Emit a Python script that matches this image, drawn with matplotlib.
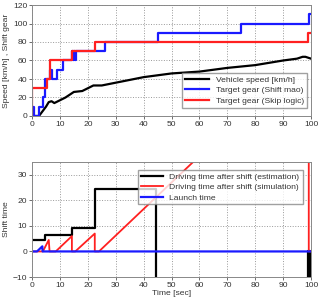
import matplotlib
matplotlib.use("Agg")
import matplotlib.pyplot as plt
import numpy as np

plt.rcParams['font.family'] = ['Liberation Sans', 'DejaVu Sans']

# ---- top chart data ----
speed_t = [0, 2.5, 3, 4, 5, 6, 7, 8, 10, 12, 15, 18, 20, 22, 25, 30, 35, 40, 45, 50, 60, 70, 80, 90, 95, 97, 98, 100]
speed_v = [0, 0, 2, 6, 10, 15, 16, 14, 17, 20, 26, 27, 30, 33, 33, 36, 39, 42, 44, 46, 48, 52, 55, 60, 62, 64, 64, 62]

shift_t = [0, 0.3, 0.8, 2.6, 4.0, 4.5, 6.3, 7.3, 9.0, 11.0, 14.2, 14.6, 15.0, 15.4, 15.8, 26.0, 45.0, 75.0, 99.3, 100]
shift_v = [0, 10, 0, 10, 20, 40, 50, 40, 50, 60, 70, 60, 70, 60, 70, 80, 90, 100, 110, 110]

skip_t = [0, 0.15, 5.5, 6.3, 14.5, 22.5, 98.8, 100]
skip_v = [0, 30, 40, 60, 70, 80, 90, 90]

# ---- bottom chart data ----
est_t = [0, 4.8, 14.3, 22.6, 44.4, 99.0, 99.6, 100]
est_v = [4.3, 6.3, 9.2, 24.5, -30, 0, -30, -30]

sim_t = [0, 3.9, 6.0, 6.3, 8.5, 14.3, 14.3, 15.5, 22.5, 22.5, 24.0, 99.2, 99.2, 100]
sim_v = [0, 0, 4.5, 0, 0, 6.0, 0, 0, 7.0, 0, 0, 78, 0, 0]

launch_t = [0, 1.8, 3.7, 3.8, 100]
launch_v = [0, 0, 2.0, 0, 0]

fig = plt.figure(figsize=(3.18, 3.07), dpi=100)
ax1 = fig.add_axes([32/318, 1-116/307, 279/318, 111/307])
ax2 = fig.add_axes([32/318, 1-277/307, 279/318, 115/307])

fs = 6.1
tc = '#333333'
for ax in (ax1, ax2):
    ax.grid(True, linestyle=':', color='#999999', linewidth=0.7)
    ax.set_xlim(0, 100)
    ax.set_xticks(range(0, 101, 10))
    ax.tick_params(labelsize=fs, length=2, width=0.5, colors=tc, pad=1.5)
    for s in ax.spines.values():
        s.set_color('#888888')
        s.set_linewidth(0.7)

ax1.plot(speed_t, speed_v, color='black', lw=1.6, label='Vehicle speed [km/h]')
ax1.step(shift_t, shift_v, where='post', color='#1a1aff', lw=1.6, label='Target gear (Shift mao)')
ax1.step(skip_t, skip_v, where='post', color='#ff2020', lw=1.6, label='Target gear (Skip logic)')
ax1.set_ylim(0, 120)
ax1.set_yticks(range(0, 121, 20))
ax1.set_ylabel('Speed [km/h] , Shift gear', fontsize=fs, labelpad=2, color=tc)
leg1 = ax1.legend(loc='lower right', fontsize=fs, frameon=True, fancybox=False,
           edgecolor='#888888', handlelength=2.8, borderpad=0.35, labelspacing=0.3,
           bbox_to_anchor=(1.0, 0.035))
for t in leg1.get_texts():
    t.set_color(tc)

ax2.step(est_t, est_v, where='post', color='black', lw=1.6, label='Driving time after shift (estimation)')
ax2.plot(sim_t, sim_v, color='#ff2020', lw=1.3, label='Driving time after shift (simulation)')
ax2.plot(launch_t, launch_v, color='#1a1aff', lw=1.6, label='Launch time')
ax2.set_ylim(-10, 35)
ax2.set_yticks(range(-10, 31, 10))
ax2.set_ylabel('Shift time', fontsize=fs, labelpad=2, color=tc)
ax2.set_xlabel('Time [sec]', fontsize=fs, labelpad=1, color=tc)
leg2 = ax2.legend(loc='upper right', fontsize=fs, frameon=True, fancybox=False,
           edgecolor='#888888', handlelength=2.6, borderpad=0.35, labelspacing=0.3,
           bbox_to_anchor=(0.985, 0.97))
for t in leg2.get_texts():
    t.set_color(tc)

fig.savefig('out.png', dpi=100)
